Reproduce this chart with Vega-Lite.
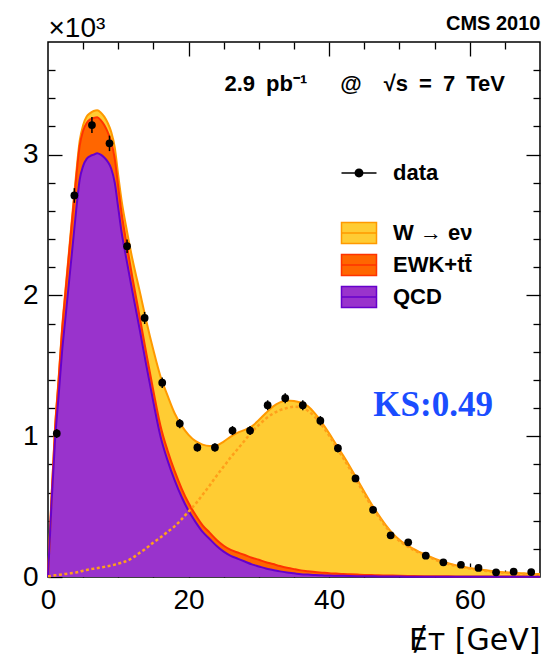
{
  "$schema": "https://vega.github.io/schema/vega-lite/v6.json",
  "width": 492,
  "height": 535,
  "autosize": "none",
  "padding": {"left": 48, "top": 42, "right": 18, "bottom": 86},
  "background": "white",
  "config": {
    "font": "Liberation Sans",
    "view": {"stroke": "black", "strokeWidth": 1.5},
    "axis": {"grid": false, "domain": false, "tickColor": "black", "tickWidth": 1.3, "labelColor": "black", "titleColor": "black", "labelFont": "Liberation Sans", "titleFont": "Liberation Sans", "zindex": 2, "labelOverlap": false}
  },
  "datasets": {
    "curves": [
      {"x": 0, "qcd": 0, "ewk": 0, "enu": 0, "wl": 0.005},
      {"x": 0.5, "qcd": 0.52, "ewk": 0.04, "enu": 0.005, "wl": 0.008},
      {"x": 1, "qcd": 0.97, "ewk": 0.08, "enu": 0.01, "wl": 0.012},
      {"x": 1.5, "qcd": 1.28, "ewk": 0.11, "enu": 0.012, "wl": 0.015},
      {"x": 2, "qcd": 1.6, "ewk": 0.15, "enu": 0.015, "wl": 0.018},
      {"x": 2.5, "qcd": 1.85, "ewk": 0.18, "enu": 0.018, "wl": 0.022},
      {"x": 3, "qcd": 2.1, "ewk": 0.2, "enu": 0.02, "wl": 0.025},
      {"x": 3.5, "qcd": 2.35, "ewk": 0.22, "enu": 0.025, "wl": 0.029},
      {"x": 4, "qcd": 2.6, "ewk": 0.23, "enu": 0.03, "wl": 0.032},
      {"x": 4.5, "qcd": 2.82, "ewk": 0.24, "enu": 0.035, "wl": 0.038},
      {"x": 5, "qcd": 2.92, "ewk": 0.25, "enu": 0.04, "wl": 0.045},
      {"x": 5.5, "qcd": 2.97, "ewk": 0.255, "enu": 0.045, "wl": 0.05},
      {"x": 6, "qcd": 2.99, "ewk": 0.26, "enu": 0.045, "wl": 0.055},
      {"x": 6.5, "qcd": 3.0, "ewk": 0.26, "enu": 0.05, "wl": 0.059},
      {"x": 7, "qcd": 3.01, "ewk": 0.255, "enu": 0.05, "wl": 0.063},
      {"x": 7.5, "qcd": 3.0, "ewk": 0.245, "enu": 0.055, "wl": 0.068},
      {"x": 8, "qcd": 2.98, "ewk": 0.23, "enu": 0.06, "wl": 0.072},
      {"x": 8.5, "qcd": 2.95, "ewk": 0.21, "enu": 0.065, "wl": 0.077},
      {"x": 9, "qcd": 2.9, "ewk": 0.19, "enu": 0.07, "wl": 0.082},
      {"x": 9.5, "qcd": 2.8, "ewk": 0.17, "enu": 0.08, "wl": 0.088},
      {"x": 10, "qcd": 2.62, "ewk": 0.15, "enu": 0.08, "wl": 0.095},
      {"x": 10.5, "qcd": 2.44, "ewk": 0.135, "enu": 0.09, "wl": 0.102},
      {"x": 11, "qcd": 2.3, "ewk": 0.12, "enu": 0.1, "wl": 0.11},
      {"x": 12, "qcd": 2.03, "ewk": 0.1, "enu": 0.13, "wl": 0.135},
      {"x": 13, "qcd": 1.77, "ewk": 0.09, "enu": 0.18, "wl": 0.17},
      {"x": 14, "qcd": 1.5, "ewk": 0.085, "enu": 0.23, "wl": 0.205},
      {"x": 15, "qcd": 1.24, "ewk": 0.08, "enu": 0.29, "wl": 0.245},
      {"x": 16, "qcd": 1.0, "ewk": 0.075, "enu": 0.35, "wl": 0.28},
      {"x": 17, "qcd": 0.83, "ewk": 0.07, "enu": 0.39, "wl": 0.32},
      {"x": 18, "qcd": 0.69, "ewk": 0.065, "enu": 0.41, "wl": 0.36},
      {"x": 19, "qcd": 0.57, "ewk": 0.06, "enu": 0.445, "wl": 0.41},
      {"x": 20, "qcd": 0.47, "ewk": 0.055, "enu": 0.485, "wl": 0.465},
      {"x": 21, "qcd": 0.39, "ewk": 0.05, "enu": 0.525, "wl": 0.52},
      {"x": 22, "qcd": 0.32, "ewk": 0.047, "enu": 0.573, "wl": 0.585},
      {"x": 23, "qcd": 0.27, "ewk": 0.045, "enu": 0.615, "wl": 0.65},
      {"x": 24, "qcd": 0.22, "ewk": 0.043, "enu": 0.672, "wl": 0.72},
      {"x": 25, "qcd": 0.18, "ewk": 0.042, "enu": 0.74, "wl": 0.785},
      {"x": 26, "qcd": 0.15, "ewk": 0.042, "enu": 0.805, "wl": 0.85},
      {"x": 27, "qcd": 0.13, "ewk": 0.044, "enu": 0.851, "wl": 0.91},
      {"x": 28, "qcd": 0.11, "ewk": 0.046, "enu": 0.889, "wl": 0.97},
      {"x": 29, "qcd": 0.09, "ewk": 0.047, "enu": 0.933, "wl": 1.03},
      {"x": 30, "qcd": 0.075, "ewk": 0.047, "enu": 0.993, "wl": 1.08},
      {"x": 31, "qcd": 0.06, "ewk": 0.045, "enu": 1.06, "wl": 1.125},
      {"x": 32, "qcd": 0.05, "ewk": 0.042, "enu": 1.118, "wl": 1.16},
      {"x": 33, "qcd": 0.04, "ewk": 0.038, "enu": 1.162, "wl": 1.185},
      {"x": 34, "qcd": 0.032, "ewk": 0.034, "enu": 1.187, "wl": 1.2},
      {"x": 35, "qcd": 0.026, "ewk": 0.03, "enu": 1.194, "wl": 1.21},
      {"x": 36, "qcd": 0.02, "ewk": 0.027, "enu": 1.191, "wl": 1.205},
      {"x": 37, "qcd": 0.017, "ewk": 0.024, "enu": 1.171, "wl": 1.18},
      {"x": 38, "qcd": 0.014, "ewk": 0.021, "enu": 1.125, "wl": 1.135},
      {"x": 39, "qcd": 0.012, "ewk": 0.019, "enu": 1.064, "wl": 1.075},
      {"x": 40, "qcd": 0.01, "ewk": 0.017, "enu": 0.993, "wl": 1.005},
      {"x": 41, "qcd": 0.009, "ewk": 0.015, "enu": 0.916, "wl": 0.925},
      {"x": 42, "qcd": 0.008, "ewk": 0.013, "enu": 0.841, "wl": 0.845},
      {"x": 43, "qcd": 0.007, "ewk": 0.012, "enu": 0.761, "wl": 0.763},
      {"x": 44, "qcd": 0.006, "ewk": 0.011, "enu": 0.675, "wl": 0.676},
      {"x": 45, "qcd": 0.005, "ewk": 0.01, "enu": 0.59, "wl": 0.59},
      {"x": 46, "qcd": 0.005, "ewk": 0.009, "enu": 0.506, "wl": 0.506},
      {"x": 47, "qcd": 0.004, "ewk": 0.008, "enu": 0.431, "wl": 0.431},
      {"x": 48, "qcd": 0.004, "ewk": 0.007, "enu": 0.361, "wl": 0.361},
      {"x": 49, "qcd": 0.003, "ewk": 0.007, "enu": 0.302, "wl": 0.302},
      {"x": 50, "qcd": 0.003, "ewk": 0.006, "enu": 0.256, "wl": 0.256},
      {"x": 52, "qcd": 0.002, "ewk": 0.005, "enu": 0.193, "wl": 0.193},
      {"x": 54, "qcd": 0.002, "ewk": 0.004, "enu": 0.146, "wl": 0.146},
      {"x": 56, "qcd": 0.002, "ewk": 0.004, "enu": 0.106, "wl": 0.106},
      {"x": 58, "qcd": 0.001, "ewk": 0.003, "enu": 0.079, "wl": 0.079},
      {"x": 60, "qcd": 0.001, "ewk": 0.003, "enu": 0.06, "wl": 0.06},
      {"x": 62, "qcd": 0.001, "ewk": 0.003, "enu": 0.045, "wl": 0.045},
      {"x": 64, "qcd": 0.001, "ewk": 0.002, "enu": 0.034, "wl": 0.034},
      {"x": 66, "qcd": 0.001, "ewk": 0.002, "enu": 0.027, "wl": 0.027},
      {"x": 68, "qcd": 0.001, "ewk": 0.002, "enu": 0.022, "wl": 0.022},
      {"x": 70, "qcd": 0.001, "ewk": 0.002, "enu": 0.018, "wl": 0.018}
    ],
    "pts": [
      {"x": 1.25, "y": 1.02, "e": 0.032},
      {"x": 3.75, "y": 2.71, "e": 0.052},
      {"x": 6.25, "y": 3.21, "e": 0.057},
      {"x": 8.75, "y": 3.08, "e": 0.055},
      {"x": 11.25, "y": 2.35, "e": 0.048},
      {"x": 13.75, "y": 1.84, "e": 0.043},
      {"x": 16.25, "y": 1.38, "e": 0.037},
      {"x": 18.75, "y": 1.09, "e": 0.033},
      {"x": 21.25, "y": 0.92, "e": 0.03},
      {"x": 23.75, "y": 0.92, "e": 0.03},
      {"x": 26.25, "y": 1.04, "e": 0.032},
      {"x": 28.75, "y": 1.04, "e": 0.032},
      {"x": 31.25, "y": 1.22, "e": 0.035},
      {"x": 33.75, "y": 1.27, "e": 0.036},
      {"x": 36.25, "y": 1.22, "e": 0.035},
      {"x": 38.75, "y": 1.11, "e": 0.033},
      {"x": 41.25, "y": 0.915, "e": 0.03},
      {"x": 43.75, "y": 0.7, "e": 0.026},
      {"x": 46.25, "y": 0.477, "e": 0.022},
      {"x": 48.75, "y": 0.296, "e": 0.017},
      {"x": 51.25, "y": 0.246, "e": 0.016},
      {"x": 53.75, "y": 0.151, "e": 0.012},
      {"x": 56.25, "y": 0.104, "e": 0.01},
      {"x": 58.75, "y": 0.087, "e": 0.009},
      {"x": 61.25, "y": 0.064, "e": 0.008},
      {"x": 63.75, "y": 0.033, "e": 0.006},
      {"x": 66.25, "y": 0.038, "e": 0.006},
      {"x": 68.75, "y": 0.035, "e": 0.006}
    ]
  },
  "layer": [
    {
      "data": {"name": "curves"},
      "transform": [
        {"fold": ["enu", "ewk", "qcd"], "as": ["comp", "v"]},
        {"stack": "v", "groupby": ["x"], "sort": [{"field": "comp", "order": "descending"}], "as": ["v0", "v1"]}
      ],
      "mark": {"type": "area", "interpolate": "monotone"},
      "encoding": {
        "x": {"field": "x", "type": "quantitative", "scale": {"domain": [0, 70], "nice": false, "zero": false},
          "axis": {"orient": "bottom", "values": [0, 20, 40, 60], "tickSize": -14,
            "labelPadding": 23, "labelFontSize": 28, "labelFlush": false,
            "title": "Ɇᴛ [GeV]", "titleFont": "DejaVu Sans", "titleFontSize": 30, "titleFontWeight": "normal", "titleAnchor": "end", "titleAlign": "right", "titleX": 492, "titleY": 72, "titleBaseline": "alphabetic"}},
        "y": {"field": "v1", "type": "quantitative", "scale": {"domain": [0, 3.8], "nice": false},
          "axis": {"orient": "left", "values": [0, 1, 2, 3], "tickSize": -14, "format": "d",
            "labelPadding": 24, "labelFontSize": 28, "labelFlush": false, "labelBound": false,
            "title": "×10³", "titleAngle": 0, "titleX": 0, "titleY": -6, "titleAlign": "left", "titleBaseline": "alphabetic", "titleFontSize": 28, "titleFontWeight": "normal"}},
        "y2": {"field": "v0"},
        "color": {"field": "comp", "type": "nominal",
          "scale": {"domain": ["enu", "ewk", "qcd"], "range": ["#FFCC33", "#FF6600", "#9933CC"]},
          "legend": {"orient": "none", "legendX": 300, "legendY": 180, "title": null,
            "symbolType": "M-2.5,-1.5H2.5V1.5H-2.5ZM-2.5,0H2.5", "symbolSize": 196,
            "labelFont": "Liberation Sans", "labelFontSize": 22, "labelFontWeight": "bold", "labelColor": "black", "labelOffset": 23, "rowPadding": 4,
            "labelExpr": "datum.value === 'enu' ? 'W → eν' : datum.value === 'ewk' ? 'EWK+tt̄' : 'QCD'",
            "encode": {"symbols": {"update": {"stroke": {"signal": "datum.value === 'qcd' ? '#6600CC' : datum.value === 'ewk' ? '#FF3300' : '#FF9900'"}, "strokeWidth": {"value": 1.5}, "opacity": {"value": 1}, "fillOpacity": {"value": 1}}}}}}
      }
    },
    {
      "data": {"name": "curves"},
      "transform": [
        {"fold": ["enu", "ewk", "qcd"], "as": ["comp", "v"]},
        {"stack": "v", "groupby": ["x"], "sort": [{"field": "comp", "order": "descending"}], "as": ["v0", "v1"]}
      ],
      "mark": {"type": "line", "interpolate": "monotone", "strokeWidth": 2},
      "encoding": {
        "x": {"field": "x", "type": "quantitative",
          "axis": {"orient": "bottom", "values": [5, 10, 15, 25, 30, 35, 45, 50, 55, 65], "labels": false, "title": null, "tickSize": -7}},
        "y": {"field": "v1", "type": "quantitative",
          "axis": {"orient": "left", "values": [0.2, 0.4, 0.6, 0.8, 1.2, 1.4, 1.6, 1.8, 2.2, 2.4, 2.6, 2.8, 3.2, 3.4, 3.6], "labels": false, "title": null, "tickSize": -7}},
        "stroke": {"field": "comp", "type": "nominal", "scale": {"domain": ["enu", "ewk", "qcd"], "range": ["#FF9900", "#FF3300", "#6600CC"]}, "legend": null}
      }
    },
    {
      "data": {"name": "curves"},
      "mark": {"type": "line", "interpolate": "monotone", "strokeWidth": 2.5, "strokeDash": [3, 2.5], "color": "#FF9F1A"},
      "encoding": {
        "x": {"field": "x", "type": "quantitative",
          "axis": {"orient": "top", "values": [20, 40, 60], "labels": false, "tickSize": -14,
            "title": "CMS 2010", "titleFontSize": 20, "titleFontWeight": "bold", "titleAnchor": "end", "titleAlign": "right", "titleX": 492, "titleY": -13, "titleBaseline": "alphabetic"}},
        "y": {"field": "wl", "type": "quantitative",
          "axis": {"orient": "right", "values": [1, 2, 3], "labels": false, "title": null, "tickSize": -14}}
      }
    },
    {
      "data": {"name": "pts"},
      "mark": {"type": "errorbar", "color": "black", "thickness": 1.5},
      "encoding": {
        "x": {"field": "x", "type": "quantitative",
          "axis": {"orient": "top", "values": [5, 10, 15, 25, 30, 35, 45, 50, 55, 65], "labels": false, "title": null, "tickSize": -7}},
        "y": {"field": "y", "type": "quantitative",
          "axis": {"orient": "right", "values": [0.2, 0.4, 0.6, 0.8, 1.2, 1.4, 1.6, 1.8, 2.2, 2.4, 2.6, 2.8, 3.2, 3.4, 3.6], "labels": false, "title": null, "tickSize": -7}},
        "yError": {"field": "e"}
      }
    },
    {
      "data": {"name": "pts"},
      "mark": {"type": "point", "filled": true, "color": "black", "opacity": 0},
      "encoding": {
        "x": {"field": "x", "type": "quantitative", "axis": null},
        "y": {"field": "y", "type": "quantitative", "axis": null},
        "shape": {"datum": "data", "type": "nominal", "scale": {"range": ["M-2.5,-0.11H2.5V0.11H-2.5ZM-0.64,0A0.64,0.64,0,1,1,0.64,0A0.64,0.64,0,1,1,-0.64,0Z"]},
          "legend": {"orient": "none", "legendX": 300, "legendY": 120, "title": null, "symbolSize": 196,
            "labelFont": "Liberation Sans", "labelFontSize": 22, "labelFontWeight": "bold", "labelColor": "black", "labelOffset": 23,
            "encode": {"symbols": {"update": {"fill": {"value": "black"}, "stroke": {"value": "black"}, "strokeWidth": {"value": 0.5}, "opacity": {"value": 1}}}}}}
      }
    },
    {
      "data": {"name": "pts"},
      "mark": {"type": "point", "filled": true, "color": "black", "size": 60, "opacity": 1},
      "encoding": {
        "x": {"field": "x", "type": "quantitative", "axis": null},
        "y": {"field": "y", "type": "quantitative", "axis": null}
      }
    },
    {
      "data": {"values": [{}]},
      "mark": {"type": "text", "align": "right", "baseline": "alphabetic", "fontSize": 22, "fontWeight": "bold", "font": "Liberation Sans", "color": "black"},
      "encoding": {
        "x": {"datum": 65, "type": "quantitative", "axis": null},
        "y": {"datum": 3.45, "type": "quantitative", "axis": null},
        "text": {"value": "2.9\u2002pb⁻¹\u2002\u2002\u2002@\u2002\u2002√s\u2002=\u20027\u2002TeV"}
      }
    },
    {
      "data": {"values": [{}]},
      "mark": {"type": "text", "align": "center", "baseline": "middle", "fontSize": 35, "fontWeight": "bold", "font": "Liberation Serif", "color": "#1A4DFF"},
      "encoding": {
        "x": {"datum": 54.8, "type": "quantitative", "axis": null},
        "y": {"datum": 1.22, "type": "quantitative", "axis": null},
        "text": {"value": "KS:0.49"}
      }
    }
  ],
  "resolve": {"axis": {"x": "independent", "y": "independent"}}
}
